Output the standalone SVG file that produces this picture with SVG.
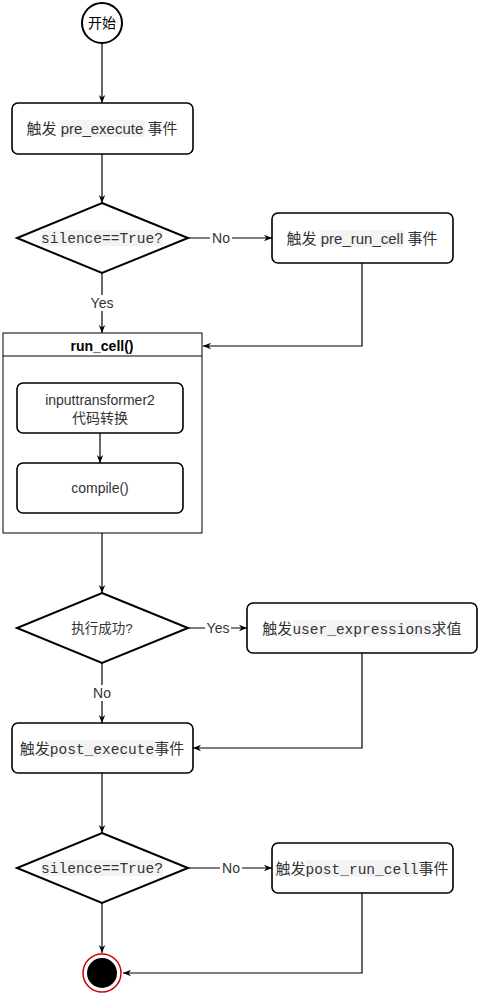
<svg xmlns="http://www.w3.org/2000/svg" width="481" height="996" viewBox="0 0 481 996">
<style>
.box{fill:#fff;stroke:#000;stroke-width:1.6}
.dia{fill:#fff;stroke:#000;stroke-width:2}
.cont{fill:#fff;stroke:#000;stroke-width:1}
.edge{fill:none;stroke:#000;stroke-width:1.2}
.t{font-family:"Liberation Sans","Noto Sans CJK SC",sans-serif;font-size:15px;fill:#333;text-anchor:middle}
.m{font-family:"Liberation Mono","DejaVu Sans Mono",monospace;font-size:14.5px}
.s{font-size:14px}
.lbl{font-family:"Liberation Sans","Noto Sans CJK SC",sans-serif;font-size:14px;fill:#333;text-anchor:middle}
.hl{fill:#f3f3f3}
</style>
<defs>
<marker id="arr" viewBox="0 0 10 10" refX="10" refY="5" markerWidth="8" markerHeight="8" markerUnits="userSpaceOnUse" orient="auto">
<path d="M0,1 L10,5 L0,9 L3,5 z" fill="#000"/>
</marker>
</defs>

<g id="edges">
<path class="edge" d="M102,43 V103" marker-end="url(#arr)"/>
<path class="edge" d="M102,154 V203" marker-end="url(#arr)"/>
<path class="edge" d="M102,273 V333" marker-end="url(#arr)"/>
<rect x="88" y="295" width="28" height="16" fill="#fff"/>
<text class="lbl" x="102" y="308">Yes</text>
<path class="edge" d="M188,238 H272" marker-end="url(#arr)"/>
<rect x="210" y="230" width="22" height="16" fill="#fff"/>
<text class="lbl" x="221" y="243">No</text>
<path class="edge" d="M362,263 V346 H203" marker-end="url(#arr)"/>
<path class="edge" d="M102,533 V593" marker-end="url(#arr)"/>
<path class="edge" d="M188,628 H247" marker-end="url(#arr)"/>
<rect x="205" y="620" width="26" height="16" fill="#fff"/>
<text class="lbl" x="218" y="633">Yes</text>
<path class="edge" d="M102,663 V723" marker-end="url(#arr)"/>
<rect x="91" y="685" width="22" height="16" fill="#fff"/>
<text class="lbl" x="102" y="698">No</text>
<path class="edge" d="M362,653 V748 H193" marker-end="url(#arr)"/>
<path class="edge" d="M102,773 V833" marker-end="url(#arr)"/>
<path class="edge" d="M188,868 H272" marker-end="url(#arr)"/>
<rect x="220" y="860" width="22" height="16" fill="#fff"/>
<text class="lbl" x="231" y="873">No</text>
<path class="edge" d="M102,903 V953" marker-end="url(#arr)"/>
<path class="edge" d="M362,893 V973 H123" marker-end="url(#arr)"/>
</g>

<g id="start">
<circle cx="102" cy="23" r="20" fill="#fff" stroke="#000" stroke-width="2"/>
<text class="t s" x="102" y="28" fill="#000" style="fill:#000">开始</text>
</g>

<g id="pre_execute">
<rect class="box" x="12" y="103" width="181" height="51" rx="6"/>
<rect class="hl" x="60" y="120" width="85" height="17"/>
<text class="t" x="102" y="134">触发 pre_execute 事件</text>
</g>

<g id="silence1">
<polygon class="dia" points="102,203 188,238 102,273 17,238"/>
<rect class="hl" x="41" y="230" width="122" height="16"/>
<text class="t m" x="102" y="243">silence==True?</text>
</g>

<g id="pre_run_cell">
<rect class="box" x="272" y="213" width="181" height="50" rx="6"/>
<rect class="hl" x="320" y="230" width="84" height="17"/>
<text class="t" x="362" y="244">触发 pre_run_cell 事件</text>
</g>

<g id="run_cell">
<rect class="cont" x="3" y="333" width="199" height="200"/>
<line x1="3" y1="356" x2="202" y2="356" stroke="#000" stroke-width="1"/>
<text class="t s" x="102" y="351" style="font-weight:bold;fill:#000">run_cell()</text>
</g>

<g id="inputtransformer2">
<rect class="box" x="17" y="383" width="166" height="50" rx="6"/>
<text class="t s" x="100" y="405">inputtransformer2</text>
<text class="t s" x="100" y="423">代码转换</text>
</g>
<g id="edge_inner">
<path class="edge" d="M100,433 V463" marker-end="url(#arr)"/>
</g>
<g id="compile">
<rect class="box" x="17" y="463" width="166" height="50" rx="6"/>
<text class="t s" x="100" y="493">compile()</text>
</g>

<g id="success">
<polygon class="dia" points="102,593 188,628 102,663 17,628"/>
<text class="t" x="102" y="633" style="font-size:13.5px">执行成功?</text>
</g>

<g id="user_expressions">
<rect class="box" x="247" y="603" width="230" height="50" rx="6"/>
<rect class="hl" x="293" y="620" width="141" height="17"/>
<text class="t" x="362" y="634">触发<tspan class="m">user_expressions</tspan>求值</text>
</g>

<g id="post_execute">
<rect class="box" x="12" y="723" width="181" height="50" rx="6"/>
<rect class="hl" x="48" y="740" width="107" height="17"/>
<text class="t" x="102" y="754">触发<tspan class="m">post_execute</tspan>事件</text>
</g>

<g id="silence2">
<polygon class="dia" points="102,833 188,868 102,903 17,868"/>
<rect class="hl" x="41" y="860" width="122" height="16"/>
<text class="t m" x="102" y="873">silence==True?</text>
</g>

<g id="post_run_cell">
<rect class="box" x="272" y="843" width="181" height="50" rx="6"/>
<rect class="hl" x="305" y="860" width="114" height="17"/>
<text class="t" x="362" y="874">触发<tspan class="m">post_run_cell</tspan>事件</text>
</g>

<g id="end">
<circle cx="102" cy="973" r="19" fill="#fff" stroke="#d00000" stroke-width="1.5"/>
<circle cx="102" cy="973" r="15" fill="#000"/>
</g>
</svg>
